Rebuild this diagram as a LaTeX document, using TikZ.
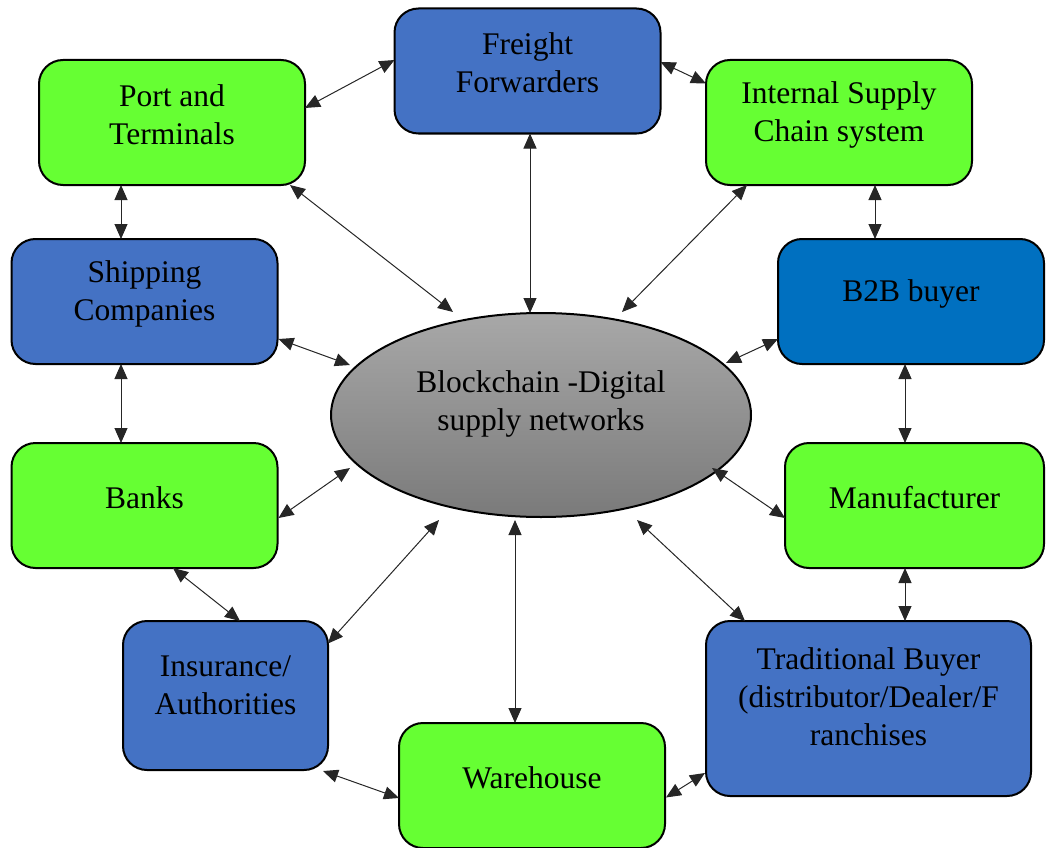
\documentclass[tikz,border=0pt]{standalone}
\usepackage{fontspec}
\setmainfont{Liberation Serif}
\usetikzlibrary{shapes.geometric,arrows.meta}
\definecolor{boxblue}{HTML}{4472C4}
\definecolor{boxdeep}{HTML}{0070C0}
\definecolor{boxgreen}{HTML}{66FF33}
\definecolor{hubtop}{RGB}{168,168,168}
\definecolor{hubbot}{RGB}{122,122,122}

\begin{document}
\begin{tikzpicture}[x=1pt,y=-1pt,
  box/.style={draw=black, line width=2pt, rounded corners=24pt,
    minimum width=266pt, minimum height=125pt, inner sep=0pt, outer sep=0pt},
  greenbox/.style={box, fill=boxgreen},
  bluebox/.style={box, fill=boxblue},
  txt/.style={font=\fontsize{31.5}{38}\selectfont, align=center, inner sep=0pt, yshift=8pt},
  link/.style={{Triangle[length=15pt,width=13pt]}-{Triangle[length=15pt,width=13pt]},
    line width=1pt, draw=black!85},
]
\useasboundingbox (0,0) rectangle (1046,848);

% central hub
\node[ellipse, draw=black, line width=2pt, top color=hubtop, bottom color=hubbot,
      minimum width=420pt, minimum height=204pt, inner sep=0pt, outer sep=0pt,
      label={[txt,yshift=3pt]center:Blockchain -Digital\\supply networks}]
      (bc) at (541,415) {};

% participants
\node[bluebox, label={[txt]center:Freight\\Forwarders}] (freight) at (527.5,71) {};
\node[greenbox, label={[txt]center:Port and\\Terminals}] (port) at (172,122.5) {};
\node[greenbox, label={[txt]center:Internal Supply\\Chain system}] (internal) at (839,122.5) {};
\node[bluebox, label={[txt]center:Shipping\\Companies}] (shipping) at (144.5,301.5) {};
\node[box, fill=boxdeep, label={[txt]center:B2B buyer}] (b2b) at (911,301.5) {};
\node[greenbox, label={[txt]center:Banks}] (banks) at (144.5,505.5) {};
\node[greenbox, minimum width=259pt, label={[txt]center:Manufacturer}] (manu) at (914.5,505.5) {};
\node[bluebox, minimum width=205pt, minimum height=149pt,
      label={[txt,yshift=2pt]center:Insurance/\\Authorities}] (insur) at (225.5,695.5) {};
\node[bluebox, minimum width=325pt, minimum height=175pt,
      label={[txt,yshift=4pt]center:Traditional Buyer\\(distributor/Dealer/F\\ranchises}] (trad) at (868.5,708.5) {};
\node[greenbox, label={[txt]center:Warehouse}] (ware) at (532,785.5) {};

% links between neighbouring participants
\draw[link] ([shift={(0,-14.5)}]port.east) -- ([shift={(0,-11)}]freight.west);
\draw[link] ([shift={(0,-9)}]freight.east) -- ([shift={(0,-39)}]internal.west);
\draw[link] ([shift={(-51,0)}]port.south) -- ([shift={(-23.5,0)}]shipping.north);
\draw[link] ([shift={(36,0)}]internal.south) -- ([shift={(-36,0)}]b2b.north);
\draw[link] ([shift={(-23.5,0)}]shipping.south) -- ([shift={(-23.5,0)}]banks.north);
\draw[link] ([shift={(-6,0)}]b2b.south) -- ([shift={(-9.5,0)}]manu.north);
\draw[link] ([shift={(28.5,0)}]banks.south) -- ([shift={(14.5,0)}]insur.north);
\draw[link] ([shift={(-9.5,0)}]manu.south) -- ([shift={(36.5,0)}]trad.north);
\draw[link] ([shift={(-5,1)}]insur.south east) -- ([shift={(0,12.5)}]ware.west);
\draw[link] ([shift={(1,12)}]ware.east) -- ([shift={(-1,64.5)}]trad.west);

% links to the hub
\draw[link] ([shift={(118,0)}]port.south) -- ([shift={(-88,-103)}]bc.center);
\draw[link] ([shift={(2.5,0)}]freight.south) -- ([shift={(-11,-102)}]bc.center);
\draw[link] ([shift={(-92,0)}]internal.south) -- ([shift={(81,-103)}]bc.center);
\draw[link] ([shift={(1,37.5)}]shipping.east) -- ([shift={(-191,-50)}]bc.center);
\draw[link] ([shift={(0,37.5)}]b2b.west) -- ([shift={(185,-52)}]bc.center);
\draw[link] ([shift={(1,12.5)}]banks.east) -- ([shift={(-191,53)}]bc.center);
\draw[link] ([shift={(0,12.5)}]manu.west) -- ([shift={(171,53)}]bc.center);
\draw[link] ([shift={(0,-52)}]insur.east) -- ([shift={(-102,105)}]bc.center);
\draw[link] ([shift={(-17,0)}]ware.north) -- ([shift={(-26,105)}]bc.center);
\draw[link] ([shift={(-123.5,0)}]trad.north) -- ([shift={(96,105)}]bc.center);
\end{tikzpicture}
\end{document}
